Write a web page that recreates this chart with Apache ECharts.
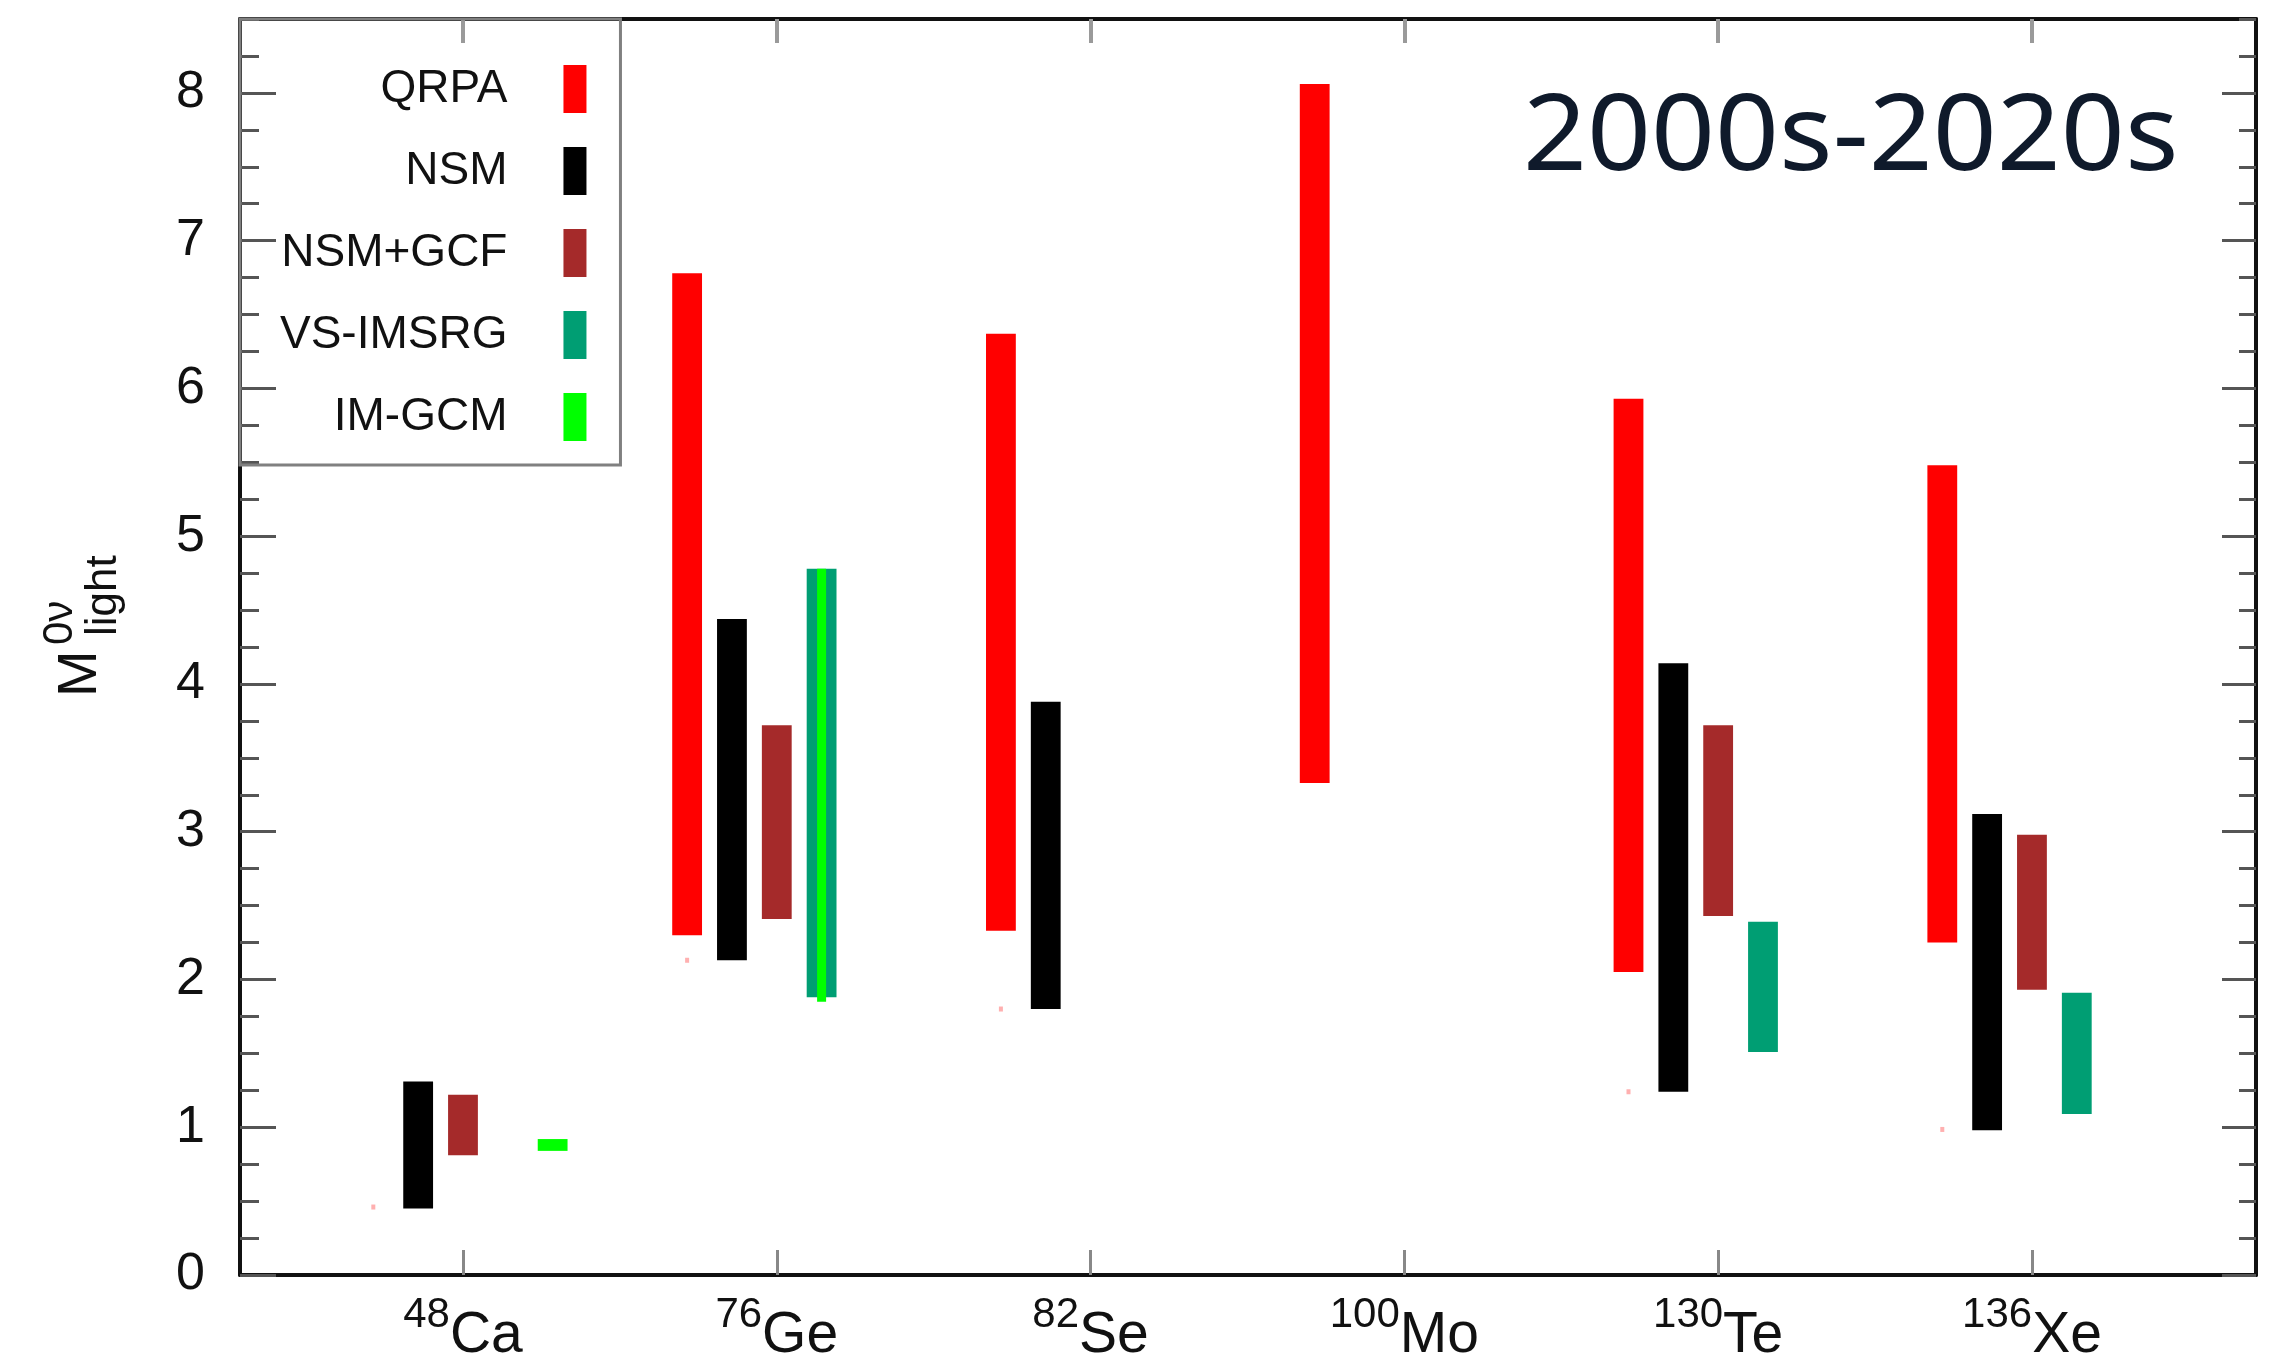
<!DOCTYPE html>
<html>
<head>
<meta charset="utf-8">
<script src="https://cdn.jsdelivr.net/npm/echarts@6/dist/echarts.min.js"></script>
<style>
html,body{margin:0;padding:0;background:#ffffff;}
#chart{width:2279px;height:1358px;}
</style>
</head>
<body>
<div id="chart"></div>
<script>
// ---- data ----
const massNumbers = ['48', '76', '82', '100', '130', '136'];
const elements    = ['Ca', 'Ge', 'Se', 'Mo', 'Te', 'Xe'];
const methods     = ['QRPA', 'NSM', 'NSM+GCF', 'VS-IMSRG', 'IM-GCM'];
const colors      = ['#ff0000', '#000000', '#a52a2a', '#009e73', '#00ff00'];
const yTickValues = [0, 1, 2, 3, 4, 5, 6, 7, 8];

// ranges of M^0v_light per nucleus (null = no result)
const qrpaLow  = [null, 2.30, 2.33, 3.33, 2.05, 2.25];
const qrpaHigh = [null, 6.78, 6.37, 8.06, 5.93, 5.48];
const nsmLow   = [0.45, 2.13, 1.80, null, 1.24, 0.98];
const nsmHigh  = [1.31, 4.44, 3.88, null, 4.14, 3.12];
const gcfLow   = [0.81, 2.41, null, null, 2.43, 1.93];
const gcfHigh  = [1.22, 3.72, null, null, 3.72, 2.98];
const vsLow    = [null, 1.88, null, null, 1.51, 1.09];
const vsHigh   = [null, 4.78, null, null, 2.39, 1.91];
const gcmLow   = [0.84, 1.85, null, null, null, null];
const gcmHigh  = [0.92, 4.78, null, null, null, null];
// small stray marks in the QRPA slot
const markValues = [0.46, 2.13, 1.80, null, 1.24, 0.985];

// ---- build chart ----
const xTickValues = elements.map((_, i) => i + 1);
const SLOT = 1 / 7;
const X_MIN = 0.2894, X_MAX = 6.714;

function rangeSeries(mi, lows, highs) {
  const data = [];
  lows.forEach((lo, i) => {
    if (lo == null) return;
    let slot = mi - 2, narrow = 0;
    if (mi === 4 && vsLow[i] != null) { slot = 1; narrow = 1; }
    data.push([i + 1 + slot * SLOT, lo, highs[i], narrow]);
  });
  return {
    name: methods[mi],
    type: 'custom',
    xAxisIndex: 0,
    yAxisIndex: 0,
    itemStyle: { color: colors[mi] },
    encode: { x: 0, y: [1, 2] },
    z: 3 + mi,
    renderItem: function (params, api) {
      const x = api.value(0);
      const top = api.coord([x, api.value(2)]);
      const bot = api.coord([x, api.value(1)]);
      const w = api.value(3) ? 9 : api.size([0.095, 0])[0];
      return {
        type: 'rect',
        shape: { x: top[0] - w / 2, y: top[1], width: w, height: bot[1] - top[1] },
        style: { fill: colors[mi] }
      };
    },
    data: data
  };
}

const marksData = [];
markValues.forEach((v, i) => { if (v != null) marksData.push([i + 1 - 2 * SLOT, v]); });

const chart = echarts.init(document.getElementById('chart'), null, { renderer: 'canvas' });

const tickCommon = { show: true, inside: true };

chart.setOption({
  animation: false,
  backgroundColor: '#ffffff',
  grid: { left: 240, right: 23, top: 19, bottom: 83, containLabel: false, outerBoundsMode: 'none' },
  legend: {
    data: methods,
    orient: 'vertical',
    left: 240,
    top: 19,
    align: 'right',
    icon: 'rect',
    itemWidth: 23,
    itemHeight: 48,
    itemGap: 34,
    padding: [46, 34, 24, 40],
    borderColor: '#808080',
    borderWidth: 3,
    selectedMode: false,
    itemStyle: { borderWidth: 0 },
    textStyle: { fontSize: 46, fontFamily: 'Liberation Sans', color: '#111111', padding: [0, 51, 0, 0] }
  },
  xAxis: [
    {
      type: 'value', position: 'bottom', min: X_MIN, max: X_MAX,
      axisLine: { show: true, onZero: false, lineStyle: { color: '#111111', width: 4 } },
      axisTick: Object.assign({}, tickCommon, { length: 25, customValues: xTickValues, lineStyle: { color: '#888888', width: 3 } }),
      axisLabel: {
        show: true,
        customValues: xTickValues,
        margin: 19,
        formatter: function (v) {
          const i = Math.round(v) - 1;
          return '{sup|' + massNumbers[i] + '}{el|' + elements[i] + '}';
        },
        rich: {
          sup: { fontSize: 42, lineHeight: 42, fontFamily: 'Liberation Sans', color: '#111111', verticalAlign: 'top' },
          el: { fontSize: 57, lineHeight: 71, fontFamily: 'Liberation Sans', color: '#111111', verticalAlign: 'bottom' }
        }
      },
      splitLine: { show: false }
    },
    {
      type: 'value', position: 'top', min: X_MIN, max: X_MAX,
      axisLine: { show: true, onZero: false, lineStyle: { color: '#111111', width: 4 } },
      axisTick: Object.assign({}, tickCommon, { length: 24, customValues: xTickValues, lineStyle: { color: '#9a9a9a', width: 4 } }),
      axisLabel: { show: false },
      splitLine: { show: false }
    }
  ],
  yAxis: [
    {
      type: 'value', position: 'left', min: 0, max: 8.5,
      axisLine: { show: true, onZero: false, lineStyle: { color: '#111111', width: 4 } },
      axisTick: Object.assign({}, tickCommon, { length: 36, customValues: yTickValues, lineStyle: { color: '#555555', width: 3 } }),
      axisLabel: { show: true, customValues: yTickValues, margin: 35, fontSize: 52, fontFamily: 'Liberation Sans', color: '#111111' },
      splitLine: { show: false }
    },
    {
      type: 'value', position: 'left', min: 0, max: 8.5, interval: 0.25,
      axisLine: { show: false },
      axisTick: Object.assign({}, tickCommon, { length: 19, lineStyle: { color: '#555555', width: 3 } }),
      axisLabel: { show: false },
      splitLine: { show: false }
    },
    {
      type: 'value', position: 'right', min: 0, max: 8.5,
      axisLine: { show: true, onZero: false, lineStyle: { color: '#111111', width: 4 } },
      axisTick: Object.assign({}, tickCommon, { length: 34, customValues: yTickValues, lineStyle: { color: '#555555', width: 3 } }),
      axisLabel: { show: false },
      splitLine: { show: false }
    },
    {
      type: 'value', position: 'right', min: 0, max: 8.5, interval: 0.25,
      axisLine: { show: false },
      axisTick: Object.assign({}, tickCommon, { length: 17, lineStyle: { color: '#555555', width: 3 } }),
      axisLabel: { show: false },
      splitLine: { show: false }
    }
  ],
  graphic: [
    {
      type: 'text', x: 1523, y: 140, z: 10, scaleX: 1.056,
      style: { text: '2000s-2020s', fontSize: 106, fontFamily: 'Noto Sans', fill: '#0f1a2b', align: 'left', verticalAlign: 'middle' }
    },
    {
      type: 'text', x: 81, y: 697, rotation: Math.PI / 2, z: 10,
      style: { text: 'M', fontSize: 56, fontFamily: 'Liberation Sans', fill: '#111111', align: 'left', verticalAlign: 'middle' }
    },
    {
      type: 'text', x: 60, y: 645, rotation: Math.PI / 2, z: 10,
      style: { text: '0\u03bd', fontSize: 42, fontFamily: 'Liberation Sans', fill: '#111111', align: 'left', verticalAlign: 'middle' }
    },
    {
      type: 'text', x: 104, y: 636, rotation: Math.PI / 2, z: 10,
      style: { text: 'light', fontSize: 44, fontFamily: 'Liberation Sans', fill: '#111111', align: 'left', verticalAlign: 'middle' }
    }
  ],
  series: [
    rangeSeries(0, qrpaLow, qrpaHigh),
    rangeSeries(1, nsmLow, nsmHigh),
    rangeSeries(2, gcfLow, gcfHigh),
    rangeSeries(3, vsLow, vsHigh),
    rangeSeries(4, gcmLow, gcmHigh),
    {
      name: 'marks', type: 'scatter', xAxisIndex: 0, yAxisIndex: 0,
      symbol: 'rect', symbolSize: [4, 5], silent: true,
      itemStyle: { color: '#ff9c9c' },
      data: marksData, z: 2
    }
  ]
});
</script>
</body>
</html>
